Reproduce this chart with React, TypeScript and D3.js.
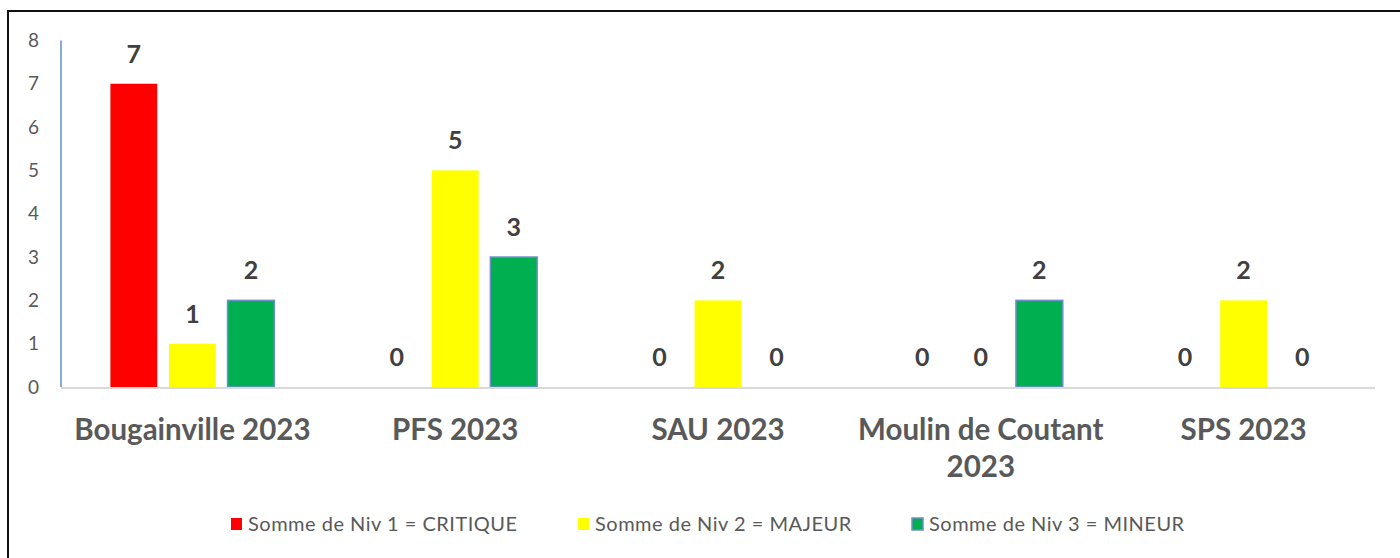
import React from "react";
import * as d3 from "d3";

const categories = ["Bougainville 2023", "PFS 2023", "SAU 2023", "Moulin de Coutant 2023", "SPS 2023"];
const categoryLines = [["Bougainville 2023"], ["PFS 2023"], ["SAU 2023"], ["Moulin de Coutant", "2023"], ["SPS 2023"]];
const seriesNames = ["Somme de Niv 1 = CRITIQUE", "Somme de Niv 2 = MAJEUR", "Somme de Niv 3 = MINEUR"];
const seriesColors = ["#FF0000", "#FFFF00", "#00B050"];
const critique = [7, 0, 0, 0, 0];
const majeur = [1, 5, 2, 0, 2];
const mineur = [2, 3, 0, 2, 0];
const yTicks = [0, 1, 2, 3, 4, 5, 6, 7, 8];

const seriesValues = [critique, majeur, mineur];

const W = 1400;
const H = 558;
const plotLeft = 61;
const plotRight = 1375;
const plotTop = 40.4;
const plotBottom = 387;
const FONT = "Lato, 'Open Sans', sans-serif";

export default function App() {
  const x0 = d3.scaleBand<string>().domain(categories).range([plotLeft, plotRight]).paddingInner(0).paddingOuter(0);
  const groupW = x0.bandwidth() * 0.624;
  const x1 = d3
    .scaleBand<number>()
    .domain([0, 1, 2])
    .range([-groupW / 2, groupW / 2])
    .paddingInner(0.2)
    .paddingOuter(0);
  const y = d3.scaleLinear().domain([0, 8]).range([plotBottom, plotTop]);

  const legendX = [231, 578, 912];

  return (
    <svg
      width={W}
      height={H}
      style={{ position: "absolute", left: 0, top: 0, display: "block", background: "#fff" }}
    >
      <rect x={8} y={11} width={W} height={H} fill="#fff" stroke="#111" strokeWidth={2} />
      {/* y ticks */}
      {yTicks.map((t) => (
        <text
          key={t}
          x={39}
          y={y(t)}
          dy="0.35em"
          textAnchor="end"
          fontFamily={FONT}
          fontSize={19}
          fill="#595959"
        >
          {t}
        </text>
      ))}
      {/* bars */}
      {categories.map((c, ci) => {
        const cx = (x0(c) as number) + x0.bandwidth() / 2;
        return (
          <g key={c}>
            {seriesValues.map((vals, si) => {
              const v = vals[ci];
              const bx = cx + (x1(si) as number);
              const bw = x1.bandwidth();
              return (
                <g key={si}>
                  {v > 0 && (
                    <rect
                      x={bx}
                      y={y(v)}
                      width={bw}
                      height={plotBottom - y(v)}
                      fill={seriesColors[si]}
                      stroke={si === 2 ? "#6F8FC9" : "none"}
                      strokeWidth={si === 2 ? 1.5 : 0}
                    />
                  )}
                  <text
                    x={bx + bw / 2}
                    y={y(v) - 21}
                    textAnchor="middle"
                    fontFamily={FONT}
                    fontWeight="bold"
                    fontSize={25}
                    fill="#404040"
                  >
                    {v}
                  </text>
                </g>
              );
            })}
          </g>
        );
      })}
      {/* axes */}
      <line x1={plotLeft} x2={plotRight} y1={plotBottom + 1} y2={plotBottom + 1} stroke="#D9D9D9" strokeWidth={2} />
      <line x1={plotLeft} x2={plotLeft} y1={plotTop} y2={plotBottom} stroke="#5B8FD0" strokeWidth={1.5} />
      {/* category labels */}
      {categories.map((c, ci) => {
        const cx = (x0(c) as number) + x0.bandwidth() / 2;
        return (
          <text
            key={c}
            x={cx}
            y={440}
            textAnchor="middle"
            fontFamily={FONT}
            fontWeight="bold"
            fontSize={29.5}
            fill="#595959"
          >
            {categoryLines[ci].map((ln, li) => (
              <tspan key={li} x={cx} dy={li === 0 ? 0 : 37}>
                {ln}
              </tspan>
            ))}
          </text>
        );
      })}
      {/* legend */}
      {seriesNames.map((n, i) => (
        <g key={n}>
          <rect
            x={legendX[i]}
            y={518}
            width={11}
            height={12}
            fill={seriesColors[i]}
            stroke={i === 2 ? "#6F8FC9" : "none"}
            strokeWidth={i === 2 ? 1.5 : 0}
          />
          <text
            x={legendX[i] + 17}
            y={524}
            dy="0.35em"
            fontFamily={FONT}
            fontSize={20}
            letterSpacing={0.5}
            fill="#595959"
          >
            {n}
          </text>
        </g>
      ))}
    </svg>
  );
}
